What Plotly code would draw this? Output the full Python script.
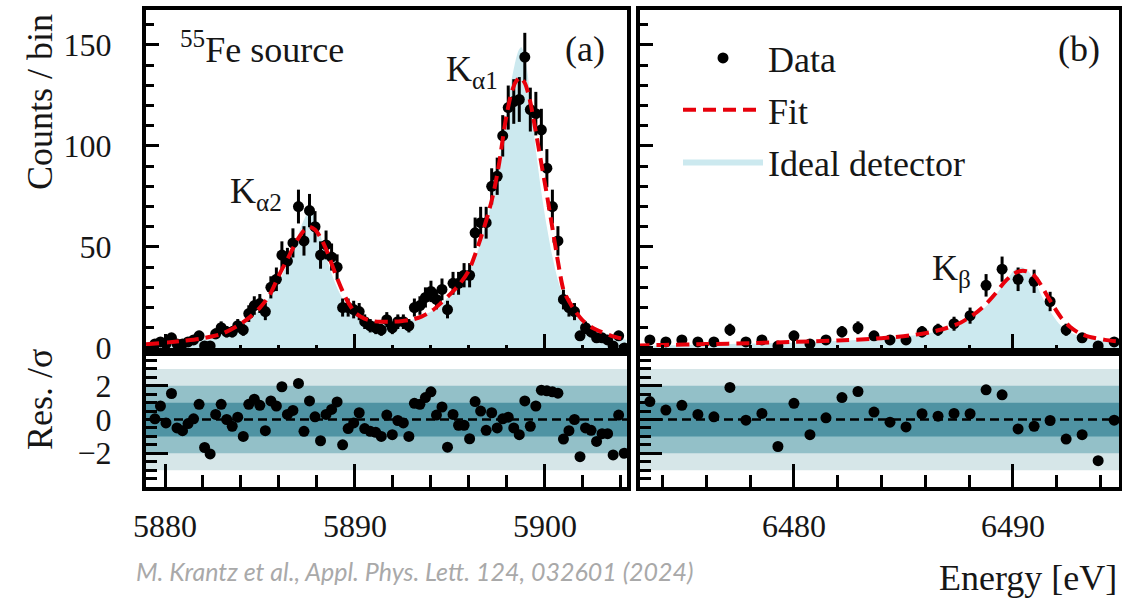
import numpy as np
import plotly.graph_objects as go

W, H = 1122, 599

# ---------------- data ----------------
# panel (a): Fe K-alpha region, histogram bins
bin_start_a = 5879.47
bin_width_a = 0.2906
counts_a = [2, 3, 2, 5, 2, 2, 3, 4, 6, 1,
            1, 7, 10, 8, 8, 11, 9, 17, 21, 22,
            18, 30, 34, 46, 43, 52, 70, 53, 68, 60,
            46, 51, 45, 40, 20, 20, 19, 18, 13, 11,
            10, 9, 14, 10, 13, 13, 11, 20, 21, 25,
            28, 24, 29, 19, 32, 32, 36, 36, 57, 62,
            62, 80, 85, 105, 119, 122, 123, 144, 118, 116,
            108, 89, 70, 53, 24, 20, 18, 6, 10, 8,
            5, 5, 4, 1, 6, 0]
resid_a = [0.04, 0.8, -0.2, 1.54, -0.5, -0.66, -0.24, 0.04, 0.9, -1.66,
           -2.04, 0.3, 0.9, 0.0, -0.4, 0.14, -1.0, 0.9, 1.2, 0.84,
           -0.66, 1.1, 0.8, 1.94, 0.3, 0.54, 2.14, -0.7, 1.1, 0.16,
           -1.26, 0.3, 0.6, 1.04, -1.5, -0.54, -0.2, 0.4, -0.54, -0.7,
           -0.76, -1.0, 0.26, -0.9, -0.06, -0.2, -1.0, 0.96, 0.9, 1.3,
           1.64, 0.26, 0.74, -1.64, 0.3, -0.34, -0.34, -1.14, 1.06, 0.5,
           -0.64, 0.4, -0.5, 0.04, 0.14, -0.5, -0.9, 1.1, -0.4, 0.8,
           1.74, 1.7, 1.64, 1.56, -1.16, -0.66, 0.0, -2.2, -0.5, -0.64,
           -1.3, -0.84, -0.84, -2.1, 0.26, -2.0]

fit_a_energy = [5879.0, 5880.0, 5881.0, 5882.0, 5883.0, 5884.0, 5884.5, 5885.0, 5885.5, 5886.0,
                5886.5, 5887.0, 5887.3, 5887.6, 5887.9, 5888.2, 5888.5, 5889.0, 5889.5, 5890.0,
                5890.5, 5891.0, 5891.5, 5892.0, 5892.5, 5893.0, 5893.5, 5894.0, 5894.5, 5895.0,
                5895.5, 5896.0, 5896.5, 5897.0, 5897.3, 5897.6, 5897.9, 5898.2, 5898.45, 5898.7,
                5898.95, 5899.2, 5899.5, 5899.8, 5900.1, 5900.4, 5900.7, 5901.0, 5901.5, 5902.0,
                5902.5, 5903.0, 5903.5, 5904.3]
fit_a_counts = [1.8, 2.6, 3.6, 4.8, 7.0, 12.0, 15.5, 20.0, 26.0, 36.0,
                45.0, 54.0, 58.0, 60.0, 58.5, 54.5, 48.5, 36.0, 25.0, 17.5,
                14.5, 13.2, 13.0, 13.0, 13.4, 14.0, 15.5, 18.0, 22.0, 26.5,
                31.5, 38.5, 51.0, 66.0, 77.0, 92.0, 111.0, 125.0, 131.5, 134.0,
                131.0, 123.0, 108.0, 92.0, 76.0, 59.0, 42.0, 28.0, 19.5, 13.5,
                10.0, 7.8, 6.0, 4.0]

ideal_a_energy = [5879.0, 5880.0, 5881.0, 5882.0, 5883.0, 5884.0, 5884.5, 5885.0, 5885.5, 5886.0,
                  5886.5, 5886.9, 5887.2, 5887.45, 5887.65, 5887.85, 5888.1, 5888.4, 5888.8, 5889.2,
                  5889.6, 5890.0, 5890.5, 5891.0, 5892.0, 5893.0, 5894.0, 5894.5, 5895.0, 5895.5,
                  5896.0, 5896.5, 5897.0, 5897.3, 5897.6, 5897.9, 5898.15, 5898.4, 5898.6, 5898.75,
                  5898.9, 5899.1, 5899.3, 5899.55, 5899.8, 5900.1, 5900.4, 5900.7, 5901.0, 5901.5,
                  5902.0, 5902.5, 5903.0, 5903.5, 5904.3]
ideal_a_counts = [1.5, 2.3, 3.2, 4.5, 6.8, 11.5, 15.0, 19.0, 25.0, 33.0,
                  43.0, 53.0, 61.0, 66.0, 68.0, 66.0, 59.0, 48.0, 36.0, 27.0,
                  21.0, 17.0, 14.5, 13.0, 12.5, 13.8, 18.0, 21.5, 26.0, 31.0,
                  38.0, 49.0, 65.0, 77.0, 93.0, 112.0, 128.0, 140.0, 147.0, 149.0,
                  146.0, 135.0, 118.0, 96.0, 78.0, 60.0, 45.0, 33.0, 25.0, 17.5,
                  12.5, 9.5, 7.5, 6.0, 4.0]

# panel (b): Fe K-beta region
bin_start_b = 6473.42
bin_width_b = 0.731
counts_b = [4, 3, 4, 3, 3, 9, 3, 4, 1, 6,
            2, 4, 8, 10, 6, 4, 4, 8, 9, 12,
            16, 31, 39, 34, 33, 23, 9, 5, 1, 3]
resid_b = [1.06, 0.56, 0.84, 0.3, 0.16, 1.9, -0.04, 0.36, -1.6, 0.96,
           -0.9, 0.1, 1.3, 1.66, 0.44, -0.16, -0.44, 0.34, 0.2, 0.36,
           0.34, 1.76, 1.46, -0.56, -0.4, -0.06, -1.16, -0.9, -2.44, -0.04]

fit_b_energy = [6472.8, 6474.0, 6476.0, 6478.0, 6480.0, 6482.0, 6483.5, 6484.5, 6485.5, 6486.3,
                6487.0, 6487.6, 6488.2, 6488.7, 6489.2, 6489.6, 6490.0, 6490.3, 6490.6, 6490.9,
                6491.2, 6491.5, 6491.8, 6492.2, 6492.6, 6493.0, 6493.5, 6494.2, 6495.0]
fit_b_counts = [1.2, 1.5, 1.9, 2.4, 3.0, 3.7, 4.5, 5.3, 6.5, 8.0,
                10.0, 12.5, 16.5, 21.0, 27.0, 32.5, 36.5, 38.0, 38.0, 36.5,
                32.5, 27.0, 21.5, 15.0, 10.5, 7.5, 5.5, 4.0, 3.0]

ideal_b_energy = [6472.8, 6475.0, 6478.0, 6481.0, 6483.5, 6485.0, 6486.5, 6487.5, 6488.3, 6488.9,
                  6489.4, 6489.8, 6490.1, 6490.4, 6490.7, 6491.0, 6491.3, 6491.7, 6492.1, 6492.5,
                  6493.0, 6493.7, 6495.0]
ideal_b_counts = [1.0, 1.5, 2.2, 3.0, 4.3, 5.5, 8.0, 11.0, 16.0, 22.0,
                  29.0, 35.0, 39.0, 40.0, 38.0, 33.0, 26.0, 18.0, 12.0, 8.5,
                  6.0, 4.2, 2.8]

xticks_a = [5880, 5890, 5900]
xticks_b = [6480, 6490]
yticks_counts = [0, 50, 100, 150]
yticks_res = [-2, 0, 2]

energy_a = bin_start_a + bin_width_a * np.arange(len(counts_a))
energy_b = bin_start_b + bin_width_b * np.arange(len(counts_b))

# ---------------- style ----------------
SERIF = "Liberation Serif"
TXT = "#161616"
FILL = "rgb(204,233,239)"
RED = "#e8000b"
BAND3 = "rgb(214,230,232)"
BAND2 = "rgb(147,192,200)"
BAND1 = "rgb(79,147,163)"

def px_x(p):
    return p / W

def px_y(p):
    return 1 - p / H

XDOM_A = [px_x(146), px_x(627)]
XDOM_B = [px_x(640), px_x(1119)]
YDOM_TOP = [px_y(352), px_y(10)]
YDOM_RES = [px_y(487), px_y(352)]

fig = go.Figure()

def add_panel(xa, ya, xr, yr, energy, counts, resid, fe, fc, ie, ic, legend):
    fig.add_trace(go.Scatter(x=ie, y=ic, mode="lines", fill="tozeroy", fillcolor=FILL,
                             line=dict(width=0, shape="spline", smoothing=0.7, color=FILL),
                             name="Ideal detector", xaxis=xa, yaxis=ya,
                             showlegend=legend, legendgroup="c", legendrank=3))
    fig.add_trace(go.Scatter(x=energy, y=counts, mode="markers",
                             marker=dict(size=11, color="black"),
                             error_y=dict(type="data", array=np.sqrt(counts), thickness=3,
                                          width=0, color="black"),
                             name="Data", xaxis=xa, yaxis=ya,
                             showlegend=legend, legendgroup="a", legendrank=1))
    fig.add_trace(go.Scatter(x=fe, y=fc, mode="lines",
                             line=dict(color=RED, width=4, dash="13px,7px", shape="spline", smoothing=0.7),
                             name="Fit", xaxis=xa, yaxis=ya,
                             showlegend=legend, legendgroup="b", legendrank=2))
    fig.add_trace(go.Scatter(x=energy, y=resid, mode="markers",
                             marker=dict(size=11, color="black"),
                             xaxis=xr, yaxis=yr, showlegend=False))

add_panel("x", "y", "x3", "y3", energy_a, counts_a, resid_a,
          fit_a_energy, fit_a_counts, ideal_a_energy, ideal_a_counts, False)
add_panel("x2", "y2", "x4", "y4", energy_b, counts_b, resid_b,
          fit_b_energy, fit_b_counts, ideal_b_energy, ideal_b_counts, True)

base = dict(showline=True, linewidth=4, linecolor="black", mirror=True, ticks="inside",
            tickcolor="black", tickwidth=3, showgrid=False, zeroline=False, automargin=False,
            tickfont=dict(family=SERIF, size=32, color=TXT))

def axis(**kw):
    d = dict(base)
    d.update(kw)
    return d

minor_x_top = dict(dtick=2, ticklen=7, tickwidth=3, tickcolor="black", ticks="inside", showgrid=False)
minor_x_res = dict(dtick=2, ticklen=12, tickwidth=3, tickcolor="black", ticks="inside", showgrid=False)
minor_y_top = dict(dtick=10, ticklen=8, tickwidth=3, tickcolor="black", ticks="inside", showgrid=False)
minor_y_res = dict(tickmode="linear", tick0=0, dtick=0.5, ticklen=11, tickwidth=3,
                   tickcolor="black", ticks="inside", showgrid=False)

RANGE_A = [5879.0, 5904.32]
RANGE_B = [6472.97, 6494.84]
RANGE_TOP = [-2, 167.3]
RANGE_RES = [-4, 4]

fig.update_layout(
    xaxis=axis(domain=XDOM_A, anchor="y", range=RANGE_A, tickmode="array", tickvals=xticks_a,
               ticklen=18, minor=minor_x_top, showticklabels=False, matches="x3"),
    xaxis2=axis(domain=XDOM_B, anchor="y2", range=RANGE_B, tickmode="array", tickvals=xticks_b,
                ticklen=18, minor=minor_x_top, showticklabels=False, matches="x4"),
    xaxis3=axis(domain=XDOM_A, anchor="y3", range=RANGE_A, tickmode="array", tickvals=xticks_a,
                ticklen=23, minor=minor_x_res, ticklabelstandoff=8),
    xaxis4=axis(domain=XDOM_B, anchor="y4", range=RANGE_B, tickmode="array", tickvals=xticks_b,
                ticklen=23, minor=minor_x_res, ticklabelstandoff=8),
    yaxis=axis(domain=YDOM_TOP, anchor="x", range=RANGE_TOP, tickmode="array",
               tickvals=yticks_counts, ticklen=13, minor=minor_y_top, ticklabelstandoff=24),
    yaxis2=axis(domain=YDOM_TOP, anchor="x2", range=RANGE_TOP, tickmode="array",
                tickvals=yticks_counts, ticklen=13, minor=minor_y_top, showticklabels=False),
    yaxis3=axis(domain=YDOM_RES, anchor="x3", range=RANGE_RES, tickmode="array",
                tickvals=yticks_res, ticklen=22, minor=minor_y_res, ticklabelstandoff=24),
    yaxis4=axis(domain=YDOM_RES, anchor="x4", range=RANGE_RES, tickmode="array",
                tickvals=yticks_res, ticklen=22, minor=minor_y_res, showticklabels=False),
)

# residual bands
shapes = []
for xr, yr in (("x3", "y3"), ("x4", "y4")):
    for lim, col in ((3, BAND3), (2, BAND2), (1, BAND1)):
        shapes.append(dict(type="rect", xref=f"{xr} domain", yref=yr, x0=0, x1=1, y0=-lim, y1=lim,
                           fillcolor=col, line=dict(width=0), layer="below"))
    shapes.append(dict(type="line", xref=f"{xr} domain", yref=yr, x0=0, x1=1, y0=0, y1=0,
                       line=dict(color="black", width=2.5, dash="9px,5px"), layer="below"))

ann = []
def text(s, x, y, size=36, xanchor="left", angle=0, color=TXT, family=SERIF):
    ann.append(dict(text=s, x=px_x(x), y=px_y(y), xref="paper", yref="paper", showarrow=False,
                    xanchor=xanchor, yanchor="middle", textangle=angle,
                    font=dict(family=family, size=size, color=color)))

text("<sup>55</sup>Fe source", 178, 47)
text("(a)", 607, 49, xanchor="right")
text("(b)", 1102, 49, xanchor="right")
text("K<sub>α1</sub>", 444, 72)
text("K<sub>α2</sub>", 228, 193)
text("K<sub>β</sub>", 930, 270)
text("Counts / bin", 40, 102, xanchor="center", angle=-90)
text("Res. /σ", 40, 400, xanchor="center", angle=-90)
text("Energy [eV]", 1119, 578, xanchor="right")
text("<i>M. Krantz et al., Appl. Phys. Lett. 124, 032601 (2024)</i>", 134, 571, size=25,
     color="#a9a9a9", family="Lato")

fig.update_layout(
    width=W, height=H, margin=dict(l=0, r=0, t=0, b=0),
    paper_bgcolor="white", plot_bgcolor="white",
    shapes=shapes, annotations=ann,
    legend=dict(x=px_x(678), y=px_y(28), xanchor="left", yanchor="top",
                font=dict(family=SERIF, size=36, color=TXT), bgcolor="rgba(0,0,0,0)",
                itemwidth=80, tracegroupgap=2),
)

fig.write_html("out.html")
